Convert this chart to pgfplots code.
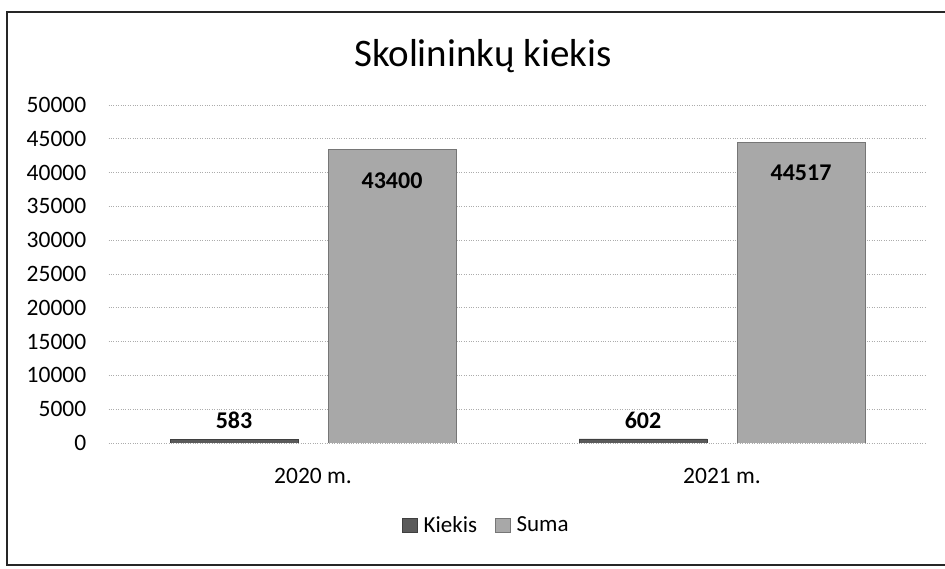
\documentclass[border=0pt]{standalone}
\usepackage{pgfplots}
\pgfplotsset{compat=1.18}
\usepackage{fontspec}
\setmainfont{Carlito}
\definecolor{kiekis}{HTML}{5A5A5A}
\definecolor{suma}{HTML}{A8A8A8}
\begin{document}
\begin{tikzpicture}
\path[use as bounding box] (0pt,0pt) rectangle (945pt,569pt);
\draw[line width=1.2pt, black!85] (950pt,557pt) -- (7pt,557pt) -- (7pt,4pt) -- (950pt,4pt);
\node[font=\fontsize{39}{44}\selectfont] at (483pt,513pt) {Skolininkų kiekis};
\begin{axis}[
  at={(108.5pt,126pt)}, anchor=south west,
  scale only axis, width=818pt, height=338pt,
  xmin=-0.5, xmax=1.5, ymin=0, ymax=50000,
  xtick={0,1}, xticklabels={2020 m.,2021 m.},
  ytick={0,5000,...,50000},
  ymajorgrids, grid style={gray!65, dotted, line width=0.7pt},
  axis line style={draw=none}, major tick length=0pt,
  tick label style={font=\fontsize{23.5}{27}\selectfont, inner sep=0pt},
  yticklabel style={anchor=east, xshift=-22pt},
  xticklabel style={anchor=center, yshift=-33pt},
  scaled y ticks=false,
  /pgf/number format/1000 sep={},
  /pgf/number format/assume math mode=true,
  ybar, bar width=128pt,
  nodes near coords,
  nodes near coords style={font=\bfseries\fontsize{24}{27}\selectfont, anchor=center, inner sep=0pt},
  legend image code/.code={\fill[#1] (0pt,-7pt) rectangle (15pt,7pt);},
  legend style={at={(0.462,-0.243)}, anchor=center, draw=none, legend columns=2,
    font=\fontsize{23}{27}\selectfont,
    /tikz/every odd column/.append style={column sep=4pt},
    /tikz/every even column/.append style={column sep=16pt}},
]
\addplot[fill=kiekis, draw=kiekis!70!black, bar shift=-79pt, nodes near coords style={yshift=19pt}] coordinates {(0,583) (1,602)};
\addplot[fill=suma, draw=suma!70!black, bar shift=79pt, nodes near coords style={yshift=-31pt}] coordinates {(0,43400) (1,44517)};
\legend{Kiekis, Suma}
\end{axis}
\end{tikzpicture}
\end{document}
